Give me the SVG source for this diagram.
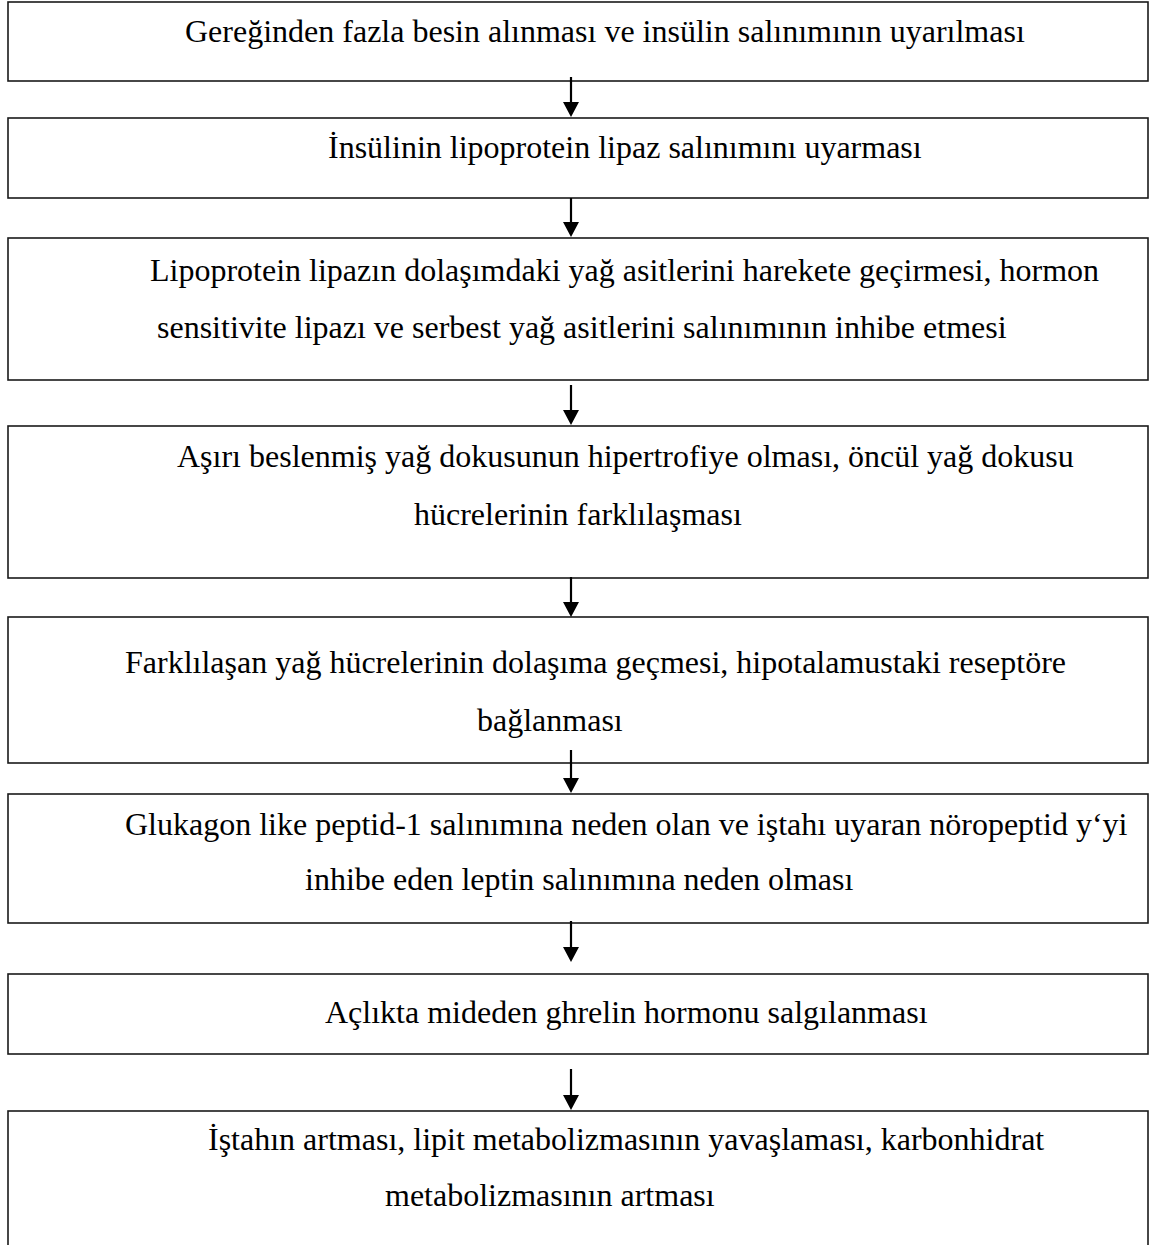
<svg xmlns="http://www.w3.org/2000/svg" width="1168" height="1245" viewBox="0 0 1168 1245">
<style>
.box{fill:#fff;stroke:#1a1a1a;stroke-width:1.6}
.t{font-family:"Liberation Serif","Times New Roman",serif;font-size:32px;fill:#000}
.c{stroke:#000;stroke-width:2.2;fill:none}
.h{fill:#000}
</style>
<rect x="0" y="0" width="1168" height="1245" fill="#fff"/>
<g id="n1"><rect class="box" x="8" y="2" width="1140" height="79"/><text class="t" x="185" y="42">Gereğinden fazla besin alınması ve insülin salınımının uyarılması</text></g>
<g id="n2"><rect class="box" x="8" y="118" width="1140" height="80"/><text class="t" x="328" y="158">İnsülinin lipoprotein lipaz salınımını uyarması</text></g>
<g id="n3"><rect class="box" x="8" y="238" width="1140" height="142"/><text class="t" x="150" y="281">Lipoprotein lipazın dolaşımdaki yağ asitlerini harekete geçirmesi, hormon</text><text class="t" x="157" y="338">sensitivite lipazı ve serbest yağ asitlerini salınımının inhibe etmesi</text></g>
<g id="n4"><rect class="box" x="8" y="426" width="1140" height="152"/><text class="t" x="177" y="467">Aşırı beslenmiş yağ dokusunun hipertrofiye olması, öncül yağ dokusu</text><text class="t" x="414" y="525">hücrelerinin farklılaşması</text></g>
<g id="n5"><rect class="box" x="8" y="617" width="1140" height="146"/><text class="t" x="125" y="673">Farklılaşan yağ hücrelerinin dolaşıma geçmesi, hipotalamustaki reseptöre</text><text class="t" x="477" y="731">bağlanması</text></g>
<g id="n6"><rect class="box" x="8" y="794" width="1140" height="129"/><text class="t" x="125" y="835">Glukagon like peptid-1 salınımına neden olan ve iştahı uyaran nöropeptid y‘yi</text><text class="t" x="305" y="890">inhibe eden leptin salınımına neden olması</text></g>
<g id="n7"><rect class="box" x="8" y="974" width="1140" height="80"/><text class="t" x="325" y="1023">Açlıkta mideden ghrelin hormonu salgılanması</text></g>
<g id="n8"><rect class="box" x="8" y="1111" width="1140" height="150"/><text class="t" x="208" y="1150">İştahın artması, lipit metabolizmasının yavaşlaması, karbonhidrat</text><text class="t" x="385" y="1206">metabolizmasının artması</text></g>
<g id="connectors">
<line class="c" x1="571" y1="77" x2="571" y2="104"/><polygon class="h" points="563,102 579,102 571,117"/>
<line class="c" x1="571" y1="198" x2="571" y2="224"/><polygon class="h" points="563,222 579,222 571,237"/>
<line class="c" x1="571" y1="385" x2="571" y2="412"/><polygon class="h" points="563,410 579,410 571,425"/>
<line class="c" x1="571" y1="577" x2="571" y2="604"/><polygon class="h" points="563,602 579,602 571,617"/>
<line class="c" x1="571" y1="750" x2="571" y2="780"/><polygon class="h" points="563,778 579,778 571,793"/>
<line class="c" x1="571" y1="921" x2="571" y2="949"/><polygon class="h" points="563,947 579,947 571,962"/>
<line class="c" x1="571" y1="1069" x2="571" y2="1097"/><polygon class="h" points="563,1095 579,1095 571,1110"/>
</g>
</svg>
